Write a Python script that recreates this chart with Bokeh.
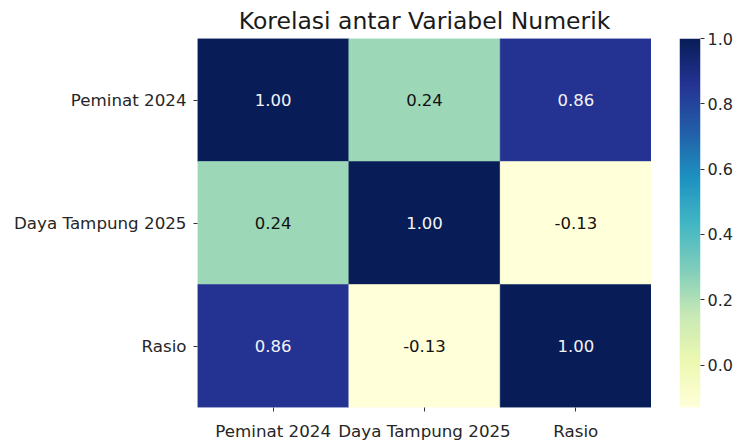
import numpy as np
from bokeh.plotting import figure
from bokeh.layouts import row
from bokeh.models import (ColumnDataSource, LinearColorMapper, Range1d,
                          FixedTicker, PrintfTickFormatter)
from bokeh.transform import transform
from bokeh.core.properties import value
from bokeh.embed import file_html
from bokeh.resources import INLINE

# ---- data ----
variables = ["Peminat 2024", "Daya Tampung 2025", "Rasio"]
corr_peminat_2024 = [1.00, 0.24, 0.86]
corr_daya_tampung_2025 = [0.24, 1.00, -0.13]
corr_rasio = [0.86, -0.13, 1.00]
colorbar_ticks = [0.0, 0.2, 0.4, 0.6, 0.8, 1.0]
title_text = "Korelasi antar Variabel Numerik"

# ---- YlGnBu colormap (matplotlib / colorbrewer anchors) ----
ylgnbu = ["#ffffd9", "#edf8b1", "#c7e9b4", "#7fcdbb", "#41b6c4",
          "#1d91c0", "#225ea8", "#253494", "#081d58"]


def hex2rgb(h):
    return np.array([int(h[i:i + 2], 16) for i in (1, 3, 5)], dtype=float)


anchors = np.array([hex2rgb(c) for c in ylgnbu])
pos = np.linspace(0, 1, len(ylgnbu))
tt = np.linspace(0, 1, 256)
rgb = np.stack([np.interp(tt, pos, anchors[:, k]) for k in range(3)], axis=1)
palette = ["#%02x%02x%02x" % tuple(int(round(v)) for v in c) for c in rgb]

rows = [corr_peminat_2024, corr_daya_tampung_2025, corr_rasio]
xs, ys, vals = [], [], []
for i, rv in enumerate(variables):
    for j, cv in enumerate(variables):
        xs.append(cv)
        ys.append(rv)
        vals.append(rows[i][j])

low, high = min(vals), max(vals)


def lum(c):
    c = c / 255.0
    c = np.where(c <= 0.03928, c / 12.92, ((c + 0.055) / 1.055) ** 2.4)
    return 0.2126 * c[0] + 0.7152 * c[1] + 0.0722 * c[2]


text_colors = []
for v in vals:
    idx = int(round((v - low) / (high - low) * 255))
    text_colors.append("#f4f4f4" if lum(rgb[idx]) < 0.408 else "#111111")

src = ColumnDataSource(dict(x=xs, y=ys, v=vals,
                            label=["%.2f" % v for v in vals],
                            tc=text_colors))

mapper = LinearColorMapper(palette=palette, low=low, high=high)

# ---- heatmap ----
p = figure(width=651, height=443, x_range=variables,
           y_range=list(reversed(variables)),
           output_backend="svg", toolbar_location=None,
           min_border_left=197, min_border_right=0,
           min_border_top=37, min_border_bottom=34,
           title=title_text)

p.rect(x="x", y="y", width=1, height=1, source=src,
       fill_color=transform("v", mapper),
       line_color=transform("v", mapper), line_width=0.5)
p.text(x="x", y="y", text="label", source=src,
       text_align="center", text_baseline="middle",
       text_color="tc", text_font_size="16.5px",
       text_font=value("DejaVu Sans"))

p.title.align = "center"
p.title.text_font = "DejaVu Sans"
p.title.text_font_size = "23.5px"
p.title.text_font_style = "normal"
p.title.text_color = "#1a1a1a"
p.title.standoff = 8

for ax in (p.xaxis, p.yaxis):
    ax.axis_line_color = None
    ax.major_tick_in = 0
    ax.major_tick_out = 4
    ax.major_tick_line_color = "#333333"
    ax.major_label_text_font = "DejaVu Sans"
    ax.major_label_text_font_size = "16.7px"
    ax.major_label_text_color = "#262626"
    ax.minor_tick_line_color = None
p.xaxis.major_label_standoff = 9
p.yaxis.major_label_standoff = 7
p.xaxis.major_label_orientation = "horizontal"

p.xgrid.grid_line_color = None
p.ygrid.grid_line_color = None
p.outline_line_color = None

# ---- colour bar (separate small figure) ----
cbf = figure(width=86, height=443, x_range=Range1d(0, 1),
             y_range=Range1d(low, high),
             output_backend="svg", toolbar_location=None,
             x_axis_location=None, y_axis_location="right",
             min_border_left=28, min_border_right=37,
             min_border_top=37, min_border_bottom=34)
gradient = np.linspace(low, high, 512).reshape(512, 1)
cbf.image(image=[gradient], x=0, y=low, dw=1, dh=high - low,
          color_mapper=mapper)
cbf.yaxis.ticker = FixedTicker(ticks=colorbar_ticks)
cbf.yaxis.formatter = PrintfTickFormatter(format="%.1f")
cbf.yaxis.axis_line_color = None
cbf.yaxis.major_tick_in = 0
cbf.yaxis.major_tick_out = 4
cbf.yaxis.major_tick_line_color = "#333333"
cbf.yaxis.minor_tick_line_color = None
cbf.yaxis.major_label_standoff = 3
cbf.yaxis.major_label_text_font = "DejaVu Sans"
cbf.yaxis.major_label_text_font_size = "16px"
cbf.yaxis.major_label_text_color = "#262626"
cbf.xgrid.grid_line_color = None
cbf.ygrid.grid_line_color = None
cbf.outline_line_color = None

layout = row(p, cbf, spacing=0)

open("out.html", "w").write(file_html(layout, INLINE))
